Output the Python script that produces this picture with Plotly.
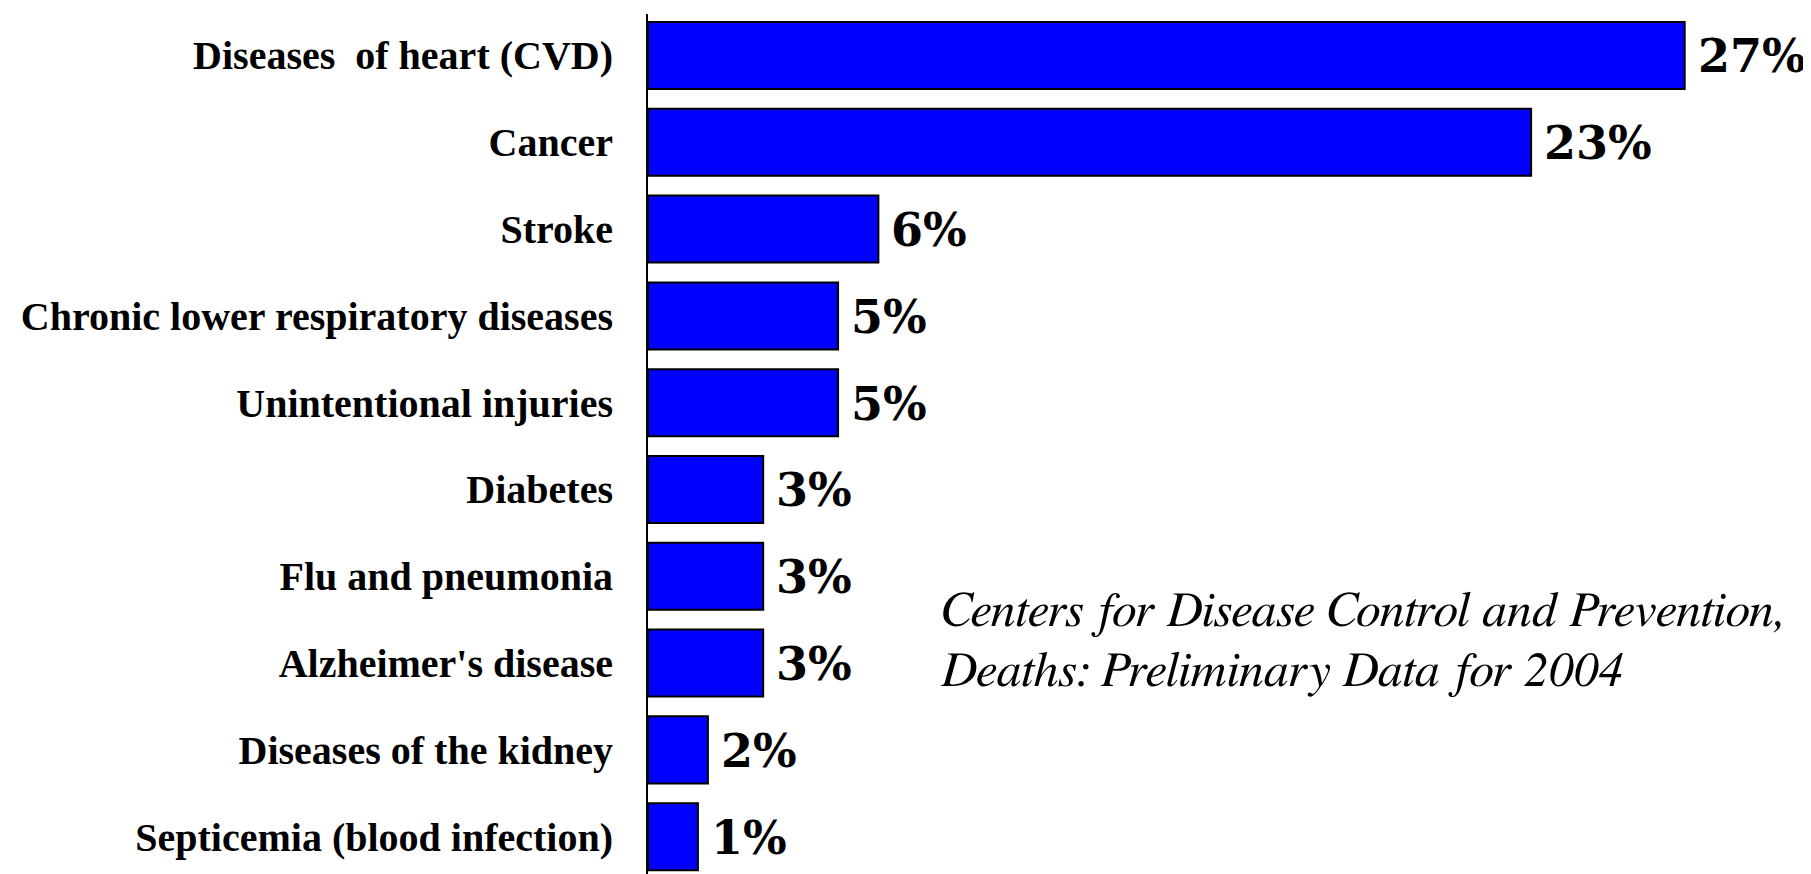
import plotly.graph_objects as go

categories = [
    "Diseases\u00a0 of heart (CVD)",
    "Cancer",
    "Stroke",
    "Chronic lower respiratory diseases",
    "Unintentional injuries",
    "Diabetes",
    "Flu and pneumonia",
    "Alzheimer's disease",
    "Diseases of the kidney",
    "Septicemia (blood infection)",
]
values = [27.0, 23.0, 6.0, 4.95, 4.95, 3.0, 3.0, 3.0, 1.56, 1.3]
value_labels = ["27%", "23%", "6%", "5%", "5%", "3%", "3%", "3%", "2%", "1%"]
source_lines = ["Centers for Disease Control and Prevention,", "Deaths: Preliminary Data for 2004"]

# the page has an 8px body margin; the figure is sized to end at the window edge
W, H = 1803, 866
L, T = 640, 6
pw, ph = W - L, H - T

fig = go.Figure()
fig.add_trace(go.Bar(
    x=values, y=categories, orientation="h", width=0.772,
    marker=dict(color="#0000FF", line=dict(color="black", width=2)),
    hoverinfo="skip",
))

annotations = []
for cat, v, lab in zip(categories, values, value_labels):
    annotations.append(dict(
        x=v, y=cat, xref="x", yref="y", text="<b>" + lab + "</b>", showarrow=False,
        xanchor="left", yanchor="middle", xshift=11, yshift=-1,
        font=dict(family="DejaVu Serif", size=46, color="black"),
    ))

for i, line in enumerate(source_lines):
    annotations.append(dict(
        x=(931 - L) / pw, y=1 - (604 + 60 * i - T) / ph, xref="paper", yref="paper",
        text=line, showarrow=False, xanchor="left", yanchor="middle", align="left",
        font=dict(family="FreeSerif", size=50, color="black", style="italic"),
    ))

fig.update_layout(
    width=W, height=H,
    margin=dict(l=L, r=0, t=T, b=0, pad=0),
    paper_bgcolor="white", plot_bgcolor="white",
    showlegend=False,
    annotations=annotations,
    xaxis=dict(range=[0, 30.29], visible=False, fixedrange=True),
    yaxis=dict(
        categoryorder="array", categoryarray=categories,
        range=[9.43, -0.478],
        showline=True, linecolor="black", linewidth=2,
        showgrid=False, zeroline=False, ticks="",
        ticklabelstandoff=25,
        tickfont=dict(family="Liberation Serif", size=40, color="black", weight="bold"),
    ),
)

fig.write_html("out.html")
